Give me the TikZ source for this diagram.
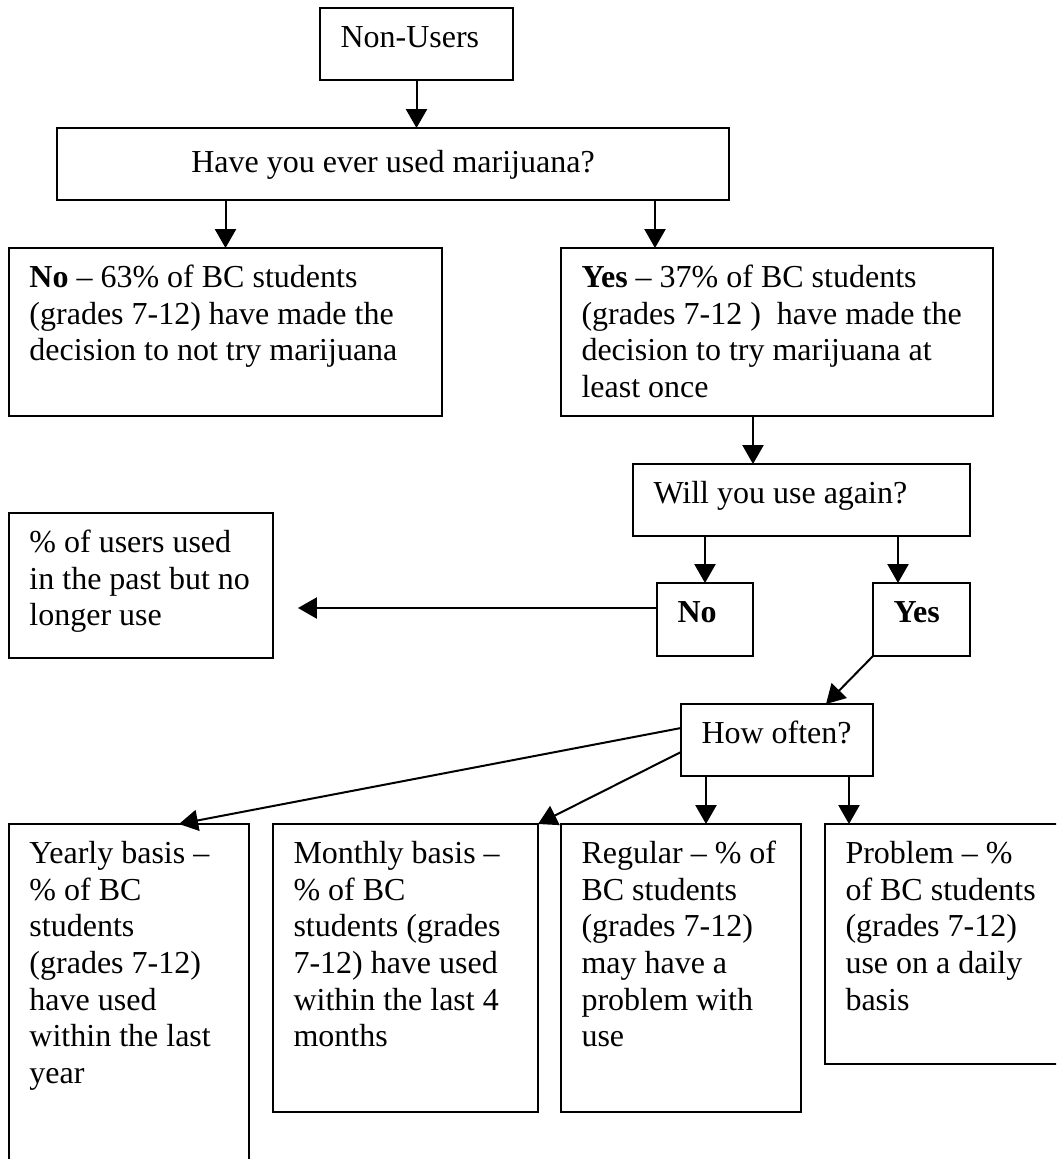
\documentclass[tikz,border=0pt]{standalone}
\usepackage{fontspec}
\setmainfont{Liberation Serif}
\usepackage{tikz}
\usetikzlibrary{arrows.meta,calc}

\newlength{\unitpx}
\setlength{\unitpx}{0.375pt}
% text box: [alignment]{width}{height}{text}
\newcommand{\boxtext}[4][\raggedright\leftskip=20.5\unitpx\relax]{%
  \parbox[t][#3\unitpx][t]{#2\unitpx}{#1\rule{0pt}{39.5\unitpx}#4}}

\begin{document}
\begin{tikzpicture}[x=0.375pt,y=-0.375pt,
  box/.style={draw,line width=0.75pt,anchor=north west,inner sep=0pt,outer sep=0pt,
    font=\fontsize{12}{13.76}\selectfont},
  arr/.style={line width=0.75pt,-{Triangle[length=7.1pt,width=7.9pt]}}]
\useasboundingbox (0,0) rectangle (1056,1159);
\clip (0,0) rectangle (1056,1159);

\node[box] (nonusers) at (320,8) {\boxtext{193}{72}{Non-Users}};
\node[box] (question) at (57,128) {\boxtext[\centering\rule{0pt}{44\unitpx}]{672}{72}{Have you ever used marijuana?}};

\node[box] (no1) at (9,248) {\boxtext{433}{168}{\textbf{No} -- 63\% of BC students\\(grades 7-12) have made the\\decision to not try marijuana}};
\node[box] (yes1) at (561,248) {\boxtext{432}{168}{\textbf{Yes} -- 37\% of BC students\\(grades 7-12 )~ have made the\\decision to try marijuana at\\least once}};

\node[box] (again) at (633,464) {\boxtext{337}{72}{Will you use again?}};
\node[box] (past) at (9,513) {\boxtext{264}{145}{\% of users used\\in the past but no\\longer use}};
\node[box] (no2) at (657,583) {\boxtext{96}{73}{\textbf{No}}};
\node[box] (yes2) at (873,583) {\boxtext{97}{73}{\textbf{Yes}}};
\node[box] (often) at (681,704) {\boxtext{192}{72}{How often?}};

% bottom row
\node[box] (yearly) at (9,824) {\boxtext{240}{360}{Yearly basis --\\\% of BC\\students\\(grades 7-12)\\have used\\within the last\\year}};
\node[box] (monthly) at (273,824) {\boxtext{265}{288}{Monthly basis --\\\% of BC\\students (grades\\7-12) have used\\within the last 4\\months}};
\node[box] (regular) at (561,824) {\boxtext{240}{288}{Regular -- \% of\\BC students\\(grades 7-12)\\may have a\\problem with\\use}};
\node[box] (problem) at (825,824) {\boxtext{250}{240}{Problem -- \%\\of BC students\\(grades 7-12)\\use on a daily\\basis}};

% arrows
\draw[arr] (nonusers.south) -- (question.north -| nonusers.south);
\draw[arr] (question.south -| no1.north) -- (no1.north);
\coordinate (yes1in) at ($(yes1.north west)+(94,0)$);
\draw[arr] (question.south -| yes1in) -- (yes1in);
\coordinate (againin) at ($(again.north west)+(120,0)$);
\draw[arr] (yes1.south -| againin) -- (againin);
\draw[arr] (again.south -| no2.north) -- (no2.north);
\coordinate (yes2in) at ($(yes2.north west)+(25,0)$);
\draw[arr] (again.south -| yes2in) -- (yes2in);
\coordinate (no2out) at ($(no2.north west)+(0,25)$);
\draw[arr] (no2out) -- ($(no2out -| past.east)+(25,0)$);
\draw[arr] (yes2.south west) -- ($(often.north east)+(-47,0)$);
% how often
\draw[arr] ($(often.north west)+(0,24)$) -- ($(yearly.north west)+(170,0)$);
\draw[arr] ($(often.north west)+(0,48)$) -- (monthly.north east);
\draw[arr] ($(often.south west)+(25,0)$) -- ($(regular.north west)+(145,0)$);
\draw[arr] ($(often.south west)+(168,0)$) -- ($(problem.north west)+(24,0)$);
\end{tikzpicture}
\end{document}
